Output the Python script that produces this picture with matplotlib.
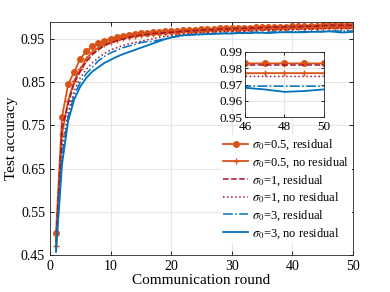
import matplotlib
matplotlib.use("Agg")
import matplotlib.pyplot as plt
import numpy as np

plt.rcParams['font.family'] = ['Liberation Serif', 'DejaVu Serif']
plt.rcParams['mathtext.fontset'] = 'stix'

rounds = list(range(1, 51))

res05 = [0.500,0.770,0.845,0.874,0.904,0.922,0.933,0.941,0.946,0.951,
         0.955,0.958,0.960,0.962,0.964,0.965,0.966,0.967,0.968,0.969,
         0.970,0.971,0.972,0.972,0.973,0.974,0.974,0.975,0.975,0.976,
         0.976,0.977,0.977,0.978,0.978,0.978,0.979,0.979,0.979,0.980,
         0.980,0.981,0.981,0.981,0.982,0.983,0.983,0.983,0.983,0.983]
nores05 = [0.470,0.730,0.807,0.853,0.880,0.905,0.920,0.930,0.938,0.944,
           0.949,0.953,0.956,0.958,0.960,0.962,0.963,0.964,0.965,0.966,
           0.967,0.968,0.968,0.969,0.970,0.970,0.971,0.971,0.972,0.972,
           0.973,0.973,0.973,0.974,0.974,0.974,0.975,0.975,0.975,0.975,
           0.976,0.976,0.976,0.976,0.977,0.977,0.977,0.977,0.977,0.977]
res1 = [0.480,0.745,0.800,0.848,0.875,0.898,0.914,0.926,0.935,0.941,
        0.946,0.950,0.954,0.957,0.959,0.961,0.963,0.964,0.965,0.966,
        0.967,0.968,0.969,0.970,0.971,0.972,0.972,0.973,0.974,0.974,
        0.975,0.975,0.976,0.976,0.977,0.977,0.978,0.978,0.979,0.979,
        0.979,0.980,0.980,0.980,0.981,0.982,0.982,0.982,0.982,0.982]
nores1 = [0.470,0.700,0.780,0.830,0.860,0.880,0.895,0.907,0.917,0.925,
          0.930,0.935,0.939,0.942,0.945,0.948,0.951,0.954,0.956,0.958,
          0.960,0.961,0.963,0.964,0.965,0.966,0.967,0.967,0.968,0.968,
          0.969,0.969,0.970,0.970,0.971,0.971,0.971,0.972,0.972,0.972,
          0.973,0.973,0.973,0.974,0.974,0.975,0.975,0.975,0.975,0.975]
res3 = [0.460,0.680,0.770,0.820,0.850,0.870,0.885,0.900,0.910,0.918,
        0.924,0.930,0.934,0.938,0.942,0.944,0.945,0.948,0.951,0.954,
        0.956,0.958,0.959,0.960,0.961,0.962,0.963,0.963,0.964,0.964,
        0.965,0.965,0.966,0.966,0.965,0.966,0.967,0.967,0.966,0.967,
        0.967,0.968,0.967,0.968,0.968,0.969,0.969,0.969,0.969,0.969]
nores3 = [0.457,0.660,0.760,0.810,0.840,0.860,0.875,0.885,0.895,0.902,
          0.909,0.915,0.920,0.925,0.930,0.935,0.940,0.945,0.950,0.954,
          0.957,0.959,0.960,0.961,0.961,0.962,0.962,0.963,0.963,0.963,
          0.964,0.964,0.964,0.965,0.965,0.964,0.965,0.966,0.966,0.966,
          0.966,0.966,0.967,0.967,0.967,0.968,0.967,0.9655,0.966,0.967]

labels = [r'$\sigma_0$=0.5, residual', r'$\sigma_0$=0.5, no residual',
          r'$\sigma_0$=1, residual', r'$\sigma_0$=1, no residual',
          r'$\sigma_0$=3, residual', r'$\sigma_0$=3, no residual']
xticks = [0, 10, 20, 30, 40, 50]
yticks = [0.45, 0.55, 0.65, 0.75, 0.85, 0.95]
inset_xticks = [46, 48, 50]
inset_yticks = [0.95, 0.96, 0.97, 0.98, 0.99]

ORANGE = '#D95319'
DRED = '#A2142F'
BLUE = '#0072BD'
styles = [
    dict(color=ORANGE, ls='-', marker='o', ms=4, lw=1.3),
    dict(color=ORANGE, ls='-', marker='+', ms=5, mew=1.0, lw=1.3),
    dict(color=DRED, ls='--', lw=1.1),
    dict(color=DRED, ls=':', lw=1.1),
    dict(color=BLUE, ls='-.', lw=1.1),
    dict(color=BLUE, ls='-', lw=1.3),
]
series = [res05, nores05, res1, nores1, res3, nores3]

fig = plt.figure(figsize=(3.9, 2.92), dpi=100)
ax = fig.add_axes([0.128, 0.127, 0.777, 0.798])
for s, st, lab in zip(series, styles, labels):
    ax.plot(rounds, s, label=lab, **st)
ax.set_xlim(0, 50)
ax.set_ylim(0.45, 0.99)
ax.set_xticks(xticks)
ax.set_yticks(yticks)
ax.set_yticklabels([f'{v:.2f}' for v in yticks])
ax.grid(True, color='#e6e6e6', lw=0.8)
ax.set_axisbelow(True)
ax.tick_params(direction='in', top=True, right=True, labelsize=10, length=3, width=0.6)
for sp in ax.spines.values():
    sp.set_linewidth(0.6)
    sp.set_color('#262626')
ax.set_xlabel('Communication round', fontsize=11, labelpad=1)
ax.set_ylabel('Test accuracy', fontsize=11, labelpad=2)
leg = ax.legend(loc='lower right', bbox_to_anchor=(1.0, 0.045), fontsize=9,
                frameon=True, edgecolor='none', facecolor='white', framealpha=1,
                handlelength=2.0, labelspacing=0.25, borderpad=0.2,
                handletextpad=0.3, borderaxespad=0.1)

ins = fig.add_axes([0.628, 0.599, 0.202, 0.223])
for s, st in zip(series, styles):
    ins.plot(rounds, s, **st)
ins.set_xlim(46, 50)
ins.set_ylim(0.95, 0.99)
ins.set_xticks(inset_xticks)
ins.set_yticks(inset_yticks)
ins.set_yticklabels([f'{v:.2f}' for v in inset_yticks])
ins.grid(True, color='#e6e6e6', lw=0.8)
ins.tick_params(direction='in', top=True, right=True, labelsize=9.5, length=2, width=0.6, pad=2)
ins.tick_params(axis='x', pad=3)
for sp in ins.spines.values():
    sp.set_linewidth(0.6)
    sp.set_color('#262626')

fig.savefig('out.png', dpi=100)
